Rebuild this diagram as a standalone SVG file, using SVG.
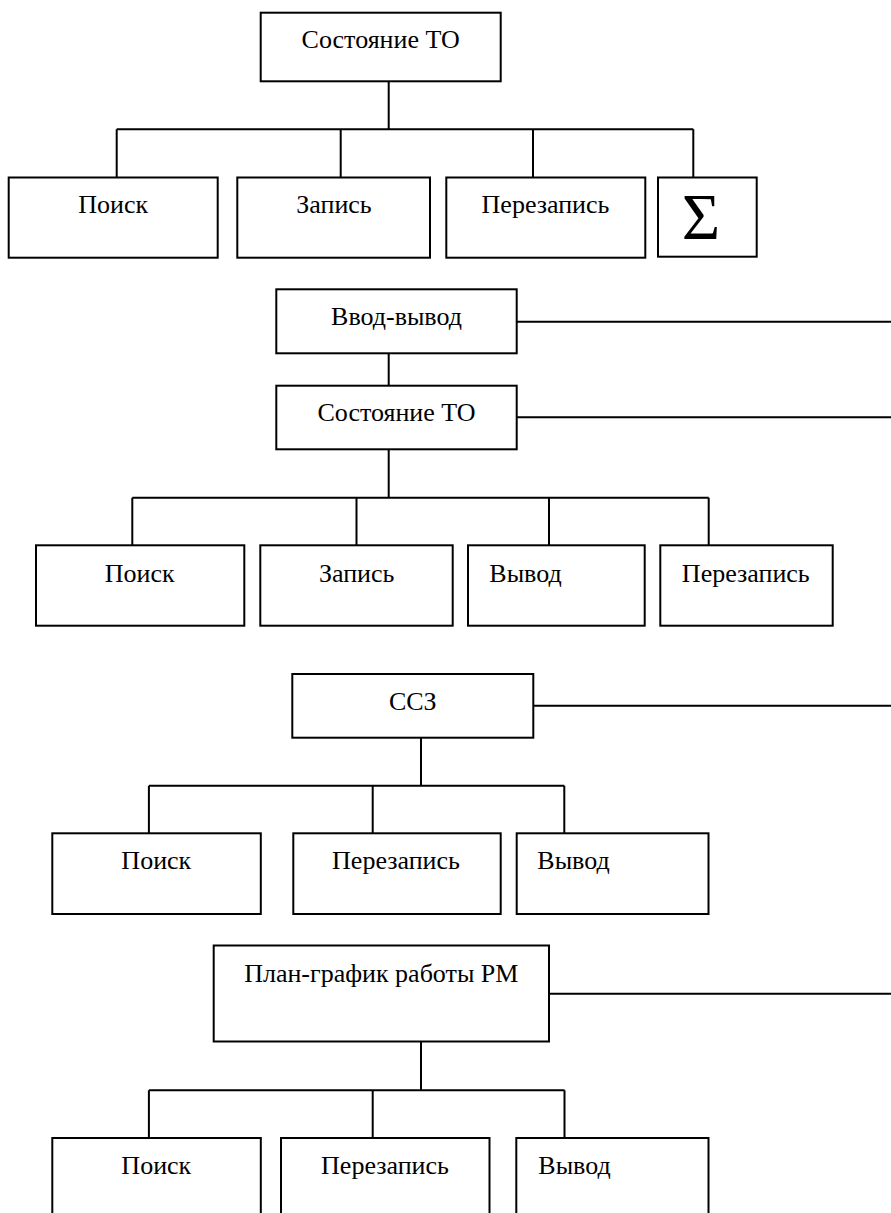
<svg xmlns="http://www.w3.org/2000/svg" width="891" height="1213" viewBox="0 0 891 1213">
<style>
.b{fill:#fff;stroke:#000;stroke-width:2}
.l{fill:none;stroke:#000;stroke-width:2}
.t{font-family:"Liberation Serif","Times New Roman",serif;font-size:26px;fill:#000}
.c{text-anchor:middle}
</style>
<rect width="891" height="1213" fill="#fff"/>
<g id="connectors">
<path class="l" d="M388.7 81.3V129.3M116.7 129.3H693.3M116.7 129.3V177.5M340.7 129.3V177.5M533 129.3V177.5M693.3 129.3V177.5"/>
<path class="l" d="M516.7 321.7H891M516.7 417.3H891M388.7 353.3V385.7M388.7 449.3V497.7M132.3 497.7H708.7M132.3 497.7V545.3M356.5 497.7V545.3M549 497.7V545.3M708.7 497.7V545.3"/>
<path class="l" d="M533.3 705.7H891M421 737.7V785.7M148.9 785.7H564.3M148.9 785.7V833.3M372.7 785.7V833.3M564.3 785.7V833.3"/>
<path class="l" d="M549 993.7H891M421 1041.5V1090.3M148.9 1090.3H564.5M148.9 1090.3V1138M372.7 1090.3V1138M564.5 1090.3V1138"/>
</g>
<g id="s1-root"><rect class="b" x="260.7" y="12.7" width="240" height="68.6"/><text class="t c" x="380.7" y="47.7">Состояние ТО</text></g>
<g id="s1-poisk"><rect class="b" x="8.7" y="177.5" width="209" height="80.2"/><text class="t c" x="113.2" y="212.7">Поиск</text></g>
<g id="s1-zapis"><rect class="b" x="237.3" y="177.5" width="192.7" height="80.2"/><text class="t c" x="334" y="212.7">Запись</text></g>
<g id="s1-perezapis"><rect class="b" x="446.3" y="177.5" width="199" height="80.2"/><text class="t c" x="545.5" y="212.7">Перезапись</text></g>
<g id="s1-sum"><rect class="b" x="658" y="177.5" width="98.7" height="79.2"/><text class="t c" x="701" y="239" style="font-size:66px">Σ</text></g>
<g id="s2-io"><rect class="b" x="276.3" y="289.3" width="240.4" height="64"/><text class="t c" x="396.5" y="325">Ввод-вывод</text></g>
<g id="s2-state"><rect class="b" x="276.3" y="385.7" width="240.4" height="63.6"/><text class="t c" x="396.5" y="421">Состояние ТО</text></g>
<g id="s2-poisk"><rect class="b" x="36" y="545.3" width="208.3" height="80.4"/><text class="t c" x="139.7" y="581.7">Поиск</text></g>
<g id="s2-zapis"><rect class="b" x="260.3" y="545.3" width="192.4" height="80.4"/><text class="t c" x="356.7" y="581.7">Запись</text></g>
<g id="s2-vyvod"><rect class="b" x="468" y="545.3" width="176.7" height="80.4"/><text class="t" x="489.3" y="581.7">Вывод</text></g>
<g id="s2-perezapis"><rect class="b" x="660.3" y="545.3" width="172.4" height="80.4"/><text class="t c" x="745.8" y="581.7">Перезапись</text></g>
<g id="s3-ssz"><rect class="b" x="292.3" y="674" width="241" height="63.7"/><text class="t c" x="412.8" y="710">ССЗ</text></g>
<g id="s3-poisk"><rect class="b" x="52.3" y="833.3" width="208.5" height="80.7"/><text class="t c" x="156.3" y="869.3">Поиск</text></g>
<g id="s3-perezapis"><rect class="b" x="293.3" y="833.3" width="207.4" height="80.7"/><text class="t c" x="396" y="869.3">Перезапись</text></g>
<g id="s3-vyvod"><rect class="b" x="516.7" y="833.3" width="191.8" height="80.7"/><text class="t" x="537.3" y="869.3">Вывод</text></g>
<g id="s4-plan"><rect class="b" x="213.7" y="945.5" width="335.3" height="96"/><text class="t c" x="381.3" y="981.7">План-график работы РМ</text></g>
<g id="s4-poisk"><rect class="b" x="52.3" y="1138" width="208.5" height="90"/><text class="t c" x="156.3" y="1174">Поиск</text></g>
<g id="s4-perezapis"><rect class="b" x="281" y="1138" width="208.5" height="90"/><text class="t c" x="385" y="1174">Перезапись</text></g>
<g id="s4-vyvod"><rect class="b" x="516.3" y="1138" width="192.2" height="90"/><text class="t" x="538.3" y="1174">Вывод</text></g>
</svg>
